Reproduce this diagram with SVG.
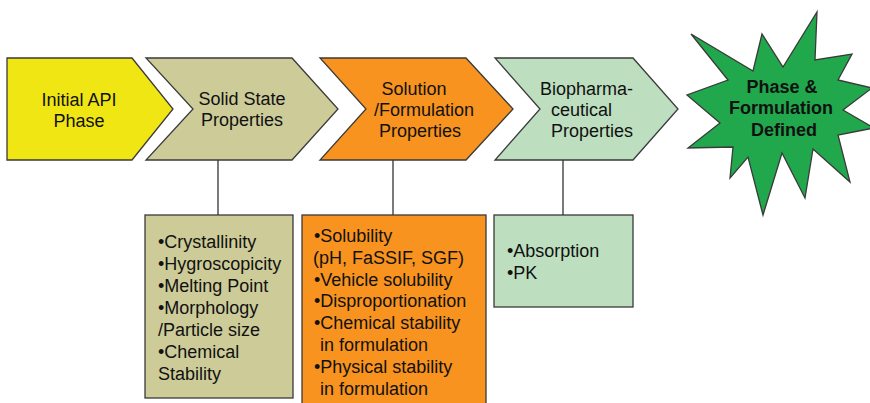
<svg xmlns="http://www.w3.org/2000/svg" width="870" height="403" viewBox="0 0 870 403">
<style>
.shape{stroke:#3a3a3a;stroke-width:1.3;stroke-linejoin:miter}
.t{font-family:"Liberation Sans",Arial,sans-serif;font-size:18px;fill:#111}
.c{text-anchor:middle}
.b{font-weight:bold}
.conn{stroke:#222;stroke-width:1.2;fill:none}
</style>
<rect width="870" height="403" fill="#ffffff"/>
<g id="connectors">
<line class="conn" x1="218" y1="160" x2="218" y2="215"/>
<line class="conn" x1="393" y1="160" x2="393" y2="215"/>
<line class="conn" x1="563" y1="160" x2="563" y2="215"/>
</g>
<g id="initial-api">
<polygon class="shape" fill="#F0E614" points="7,58 132,58 173,109 132,160 7,160"/>
<text class="t c" x="79" y="106">Initial API</text>
<text class="t c" x="79" y="127">Phase</text>
</g>
<g id="solid-state">
<polygon class="shape" fill="#CDCC99" points="146,58 292,58 338,109 292,160 146,160 193,109"/>
<text class="t c" x="242" y="105">Solid State</text>
<text class="t c" x="242" y="126">Properties</text>
</g>
<g id="solution-formulation">
<polygon class="shape" fill="#F7931E" points="320,58 466,58 513,109 466,160 320,160 366,109"/>
<text class="t c" x="414" y="95">Solution</text>
<text class="t c" x="424" y="116">/Formulation</text>
<text class="t c" x="420" y="137">Properties</text>
</g>
<g id="biopharmaceutical">
<polygon class="shape" fill="#BDDFBF" points="495,58 633,58 678,109 633,160 495,160 540,109"/>
<text class="t" x="540" y="95">Biopharma-</text>
<text class="t" x="551" y="116">ceutical</text>
<text class="t" x="551" y="137">Properties</text>
</g>
<g id="phase-defined">
<polygon class="shape" fill="#21A84C" stroke-width="1.6" points="691,34 753,71 762,34 783,67 817,12 815,60 852,54 838,80 872,88 843,110 874,128 838,135 850,182 813,149 805,198 782,153 763,215 748,157 730,178 733,147 688,148 720,123 687,95 728,80"/>
<text class="t c b" x="782" y="93">Phase &amp;</text>
<text class="t c b" x="781" y="114">Formulation</text>
<text class="t c b" x="784" y="136">Defined</text>
</g>
<g id="solid-state-list">
<rect class="shape" fill="#CDCC99" x="145" y="215" width="148" height="183"/>
<text class="t" x="158" y="248">•Crystallinity</text>
<text class="t" x="158" y="270">•Hygroscopicity</text>
<text class="t" x="158" y="292">•Melting Point</text>
<text class="t" x="158" y="314">•Morphology</text>
<text class="t" x="158" y="336">/Particle size</text>
<text class="t" x="158" y="358">•Chemical</text>
<text class="t" x="158" y="380">Stability</text>
</g>
<g id="solution-list">
<rect class="shape" fill="#F7931E" x="302" y="215" width="184" height="200"/>
<text class="t" x="314" y="242">•Solubility</text>
<text class="t" x="313" y="264">(pH, FaSSIF, SGF)</text>
<text class="t" x="314" y="286">•Vehicle solubility</text>
<text class="t" x="314" y="307">•Disproportionation</text>
<text class="t" x="314" y="329">•Chemical stability</text>
<text class="t" x="320" y="351">in formulation</text>
<text class="t" x="314" y="373">•Physical stability</text>
<text class="t" x="320" y="395">in formulation</text>
</g>
<g id="biopharm-list">
<rect class="shape" fill="#BDDFBF" x="494" y="215" width="139" height="92"/>
<text class="t" x="507" y="257">•Absorption</text>
<text class="t" x="507" y="279">•PK</text>
</g>
</svg>
